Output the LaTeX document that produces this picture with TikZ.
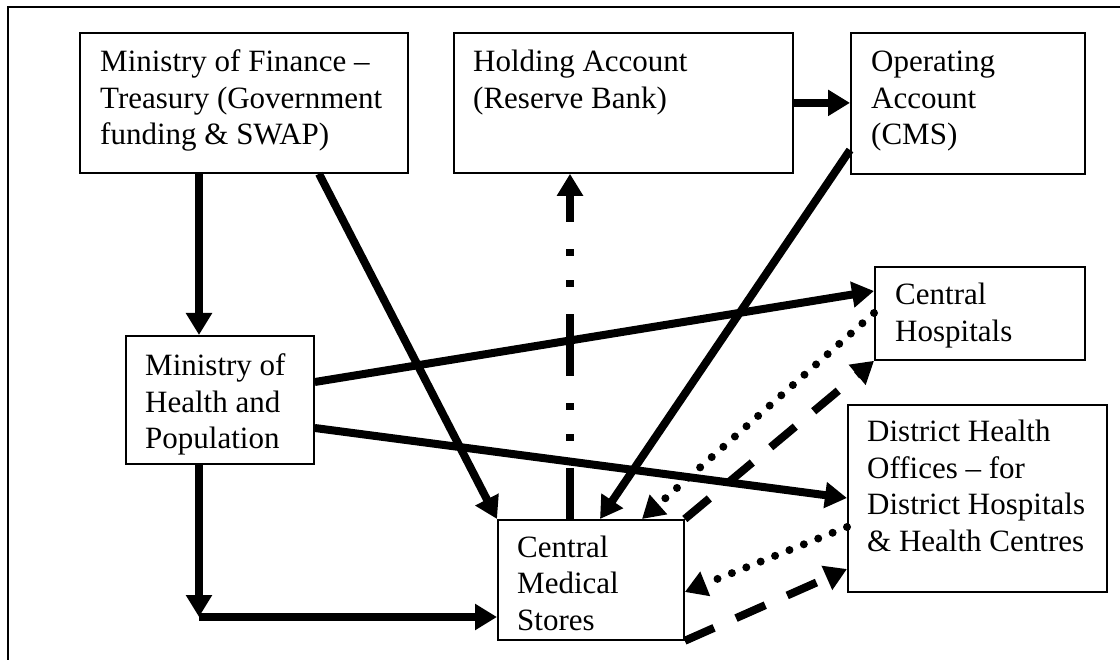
\documentclass[tikz,border=0pt]{standalone}
\usepackage{fontspec}
\setmainfont{Liberation Serif}
\usetikzlibrary{arrows.meta,calc}
\begin{document}
\begin{tikzpicture}[x=1pt,y=-1pt,
  box/.style={draw, line width=1.8pt, inner sep=0pt, anchor=north west},
  txt/.style={inner sep=0pt, anchor=base west, font=\fontsize{31pt}{36.5pt}\selectfont},
  tip/.style={-{Triangle[length=22pt,width=25pt]}},
  solidarrow/.style={line width=8pt, tip},
  dottedarrow/.style={line width=8pt, line cap=round, dash pattern=on 0pt off 15.5pt, tip},
  dashedarrow/.style={line width=8pt, dash pattern=on 32pt off 24pt, tip},
  dashdotarrow/.style={line width=8pt, dash pattern=on 62pt off 27pt on 7pt off 24pt on 7pt off 27pt, dash phase=11pt, tip}]
\useasboundingbox (0,0) rectangle (1120,660);
\draw[line width=2pt] (8,662) -- (8,7) -- (1122,7);
% boxes
\node[box, minimum width=328pt, minimum height=140pt] (fin) at (79,32) {};
\node[box, minimum width=339pt, minimum height=140pt] (hold) at (453,32) {};
\node[box, minimum width=234pt, minimum height=141pt] (oper) at (850,32) {};
\node[box, minimum width=210pt, minimum height=93pt] (ch) at (874,266) {};
\node[box, minimum width=259pt, minimum height=187pt] (dho) at (847,404) {};
\node[box, minimum width=188pt, minimum height=128pt] (moh) at (125,335) {};
\node[box, minimum width=186pt, minimum height=120pt] (cms) at (497,519) {};
% texts
\node[txt] (fintx) at ([xshift=21pt,yshift=-40pt]fin.north west) {\begin{tabular}[t]{@{}l@{}}Ministry of Finance –\\Treasury (Government\\funding \& SWAP)\end{tabular}};
\node[txt] (holdtx) at ([xshift=20pt,yshift=-40pt]hold.north west) {\begin{tabular}[t]{@{}l@{}}Holding Account\\(Reserve Bank)\end{tabular}};
\node[txt] (opertx) at ([xshift=21pt,yshift=-40pt]oper.north west) {\begin{tabular}[t]{@{}l@{}}Operating\\Account\\(CMS)\end{tabular}};
\node[txt] (chtx) at ([xshift=21pt,yshift=-39pt]ch.north west) {\begin{tabular}[t]{@{}l@{}}Central\\Hospitals\end{tabular}};
\node[txt] (dhotx) at ([xshift=20pt,yshift=-38pt]dho.north west) {\begin{tabular}[t]{@{}l@{}}District Health\\Offices – for\\District Hospitals\\\& Health Centres\end{tabular}};
\node[txt] (mohtx) at ([xshift=20pt,yshift=-41pt]moh.north west) {\begin{tabular}[t]{@{}l@{}}Ministry of\\Health and\\Population\end{tabular}};
\node[txt] (cmstx) at ([xshift=20pt,yshift=-38pt]cms.north west) {\begin{tabular}[t]{@{}l@{}}Central\\Medical\\Stores\end{tabular}};
% connectors
\coordinate (corner) at (199,617);
\draw[solidarrow] ([xshift=120pt]fin.south west) -- ([xshift=120pt]fin.south west |- moh.north);
\draw[solidarrow] ([xshift=240pt]fin.south west) -- (cms.north west);
\draw[dashdotarrow] ([xshift=73pt]cms.north west) -- ([xshift=73pt]cms.north west |- hold.south);
\draw[solidarrow] (hold.east) -- (hold.east -| oper.west);
\draw[solidarrow] ([yshift=-118pt]oper.north west) -- ([xshift=103pt]cms.north west);
\draw[solidarrow] ([yshift=-47pt]moh.north east) -- ([yshift=-25pt]ch.north west);
\draw[solidarrow] ([yshift=-93pt]moh.north east) -- ([yshift=-94pt]dho.north west);
\draw[solidarrow] ([xshift=74pt]moh.south west) -- (corner);
\draw[solidarrow] (corner) -- (corner -| cms.west);
\draw[dottedarrow] ([yshift=-47pt]ch.north west) -- ([xshift=145pt]cms.north west);
\draw[dashedarrow] (cms.north east) -- (ch.south west);
\draw[dottedarrow] ([yshift=-123pt]dho.north west) -- ([yshift=-73pt]cms.north east);
\draw[dashedarrow] (cms.south east) -- ([yshift=-165pt]dho.north west);
\end{tikzpicture}
\end{document}
